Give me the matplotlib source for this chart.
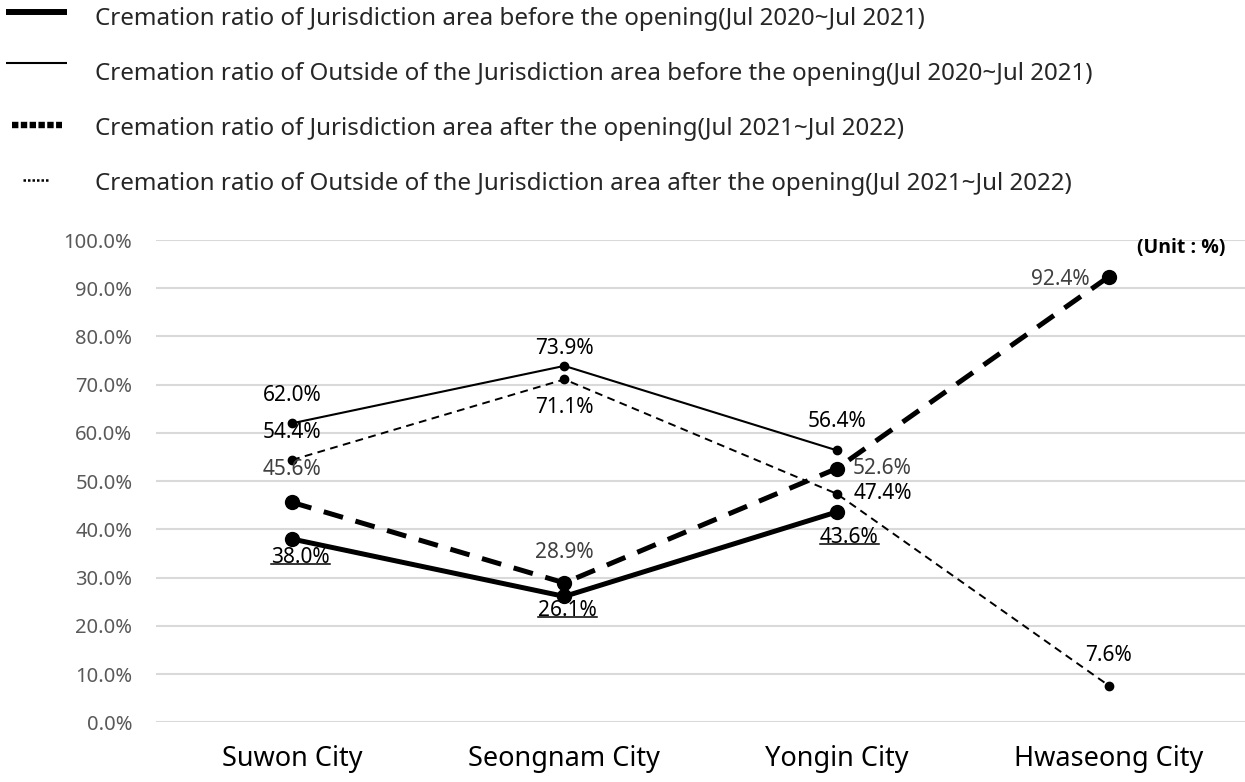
import matplotlib
matplotlib.use("Agg")
import matplotlib.pyplot as plt
from matplotlib.lines import Line2D
import numpy as np

plt.rcParams['font.family'] = ['Noto Sans', 'DejaVu Sans']

# data
cities = ["Suwon City", "Seongnam City", "Yongin City", "Hwaseong City"]
juris_before = [38.0, 26.1, 43.6, np.nan]
outside_before = [62.0, 73.9, 56.4, np.nan]
juris_after = [45.6, 28.9, 52.6, 92.4]
outside_after = [54.4, 71.1, 47.4, 7.6]

legend_labels = [
    "Cremation ratio of Jurisdiction area before the opening(Jul 2020~Jul 2021)",
    "Cremation ratio of Outside of the Jurisdiction area before the opening(Jul 2020~Jul 2021)",
    "Cremation ratio of Jurisdiction area after the opening(Jul 2021~Jul 2022)",
    "Cremation ratio of Outside of the Jurisdiction area after the opening(Jul 2021~Jul 2022)",
]

W, H = 1245, 782
fig = plt.figure(figsize=(W / 100, H / 100), dpi=100)
ax = fig.add_axes([156 / W, (H - 722.3) / H, (W - 156) / W, (722.3 - 240) / H])

x = np.arange(len(cities))

ax.plot(x, juris_before, color="black", lw=3.6, marker="o", ms=10, zorder=4)
ax.plot(x, outside_before, color="black", lw=1.5, marker="o", ms=6, zorder=4)
ax.plot(x, juris_after, color="black", lw=3.6, ls=(0, (4, 2.6)), marker="o", ms=10, zorder=4)
ax.plot(x, outside_after, color="black", lw=1.4, ls=(0, (4, 2.8)), marker="o", ms=6, zorder=4)

ax.set_xlim(-0.5, 3.5)
ax.set_ylim(0, 100)
ax.set_yticks(np.arange(0, 101, 10))
ax.set_yticklabels([f"{v:.1f}%" for v in np.arange(0, 101, 10)], color="#595959", fontsize=14.5)
ax.set_xticks(x)
ax.set_xticklabels(cities, fontsize=19.5, color="black")
ax.tick_params(axis="both", length=0)
ax.tick_params(axis="y", pad=17)
ax.tick_params(axis="x", pad=16)
ax.grid(axis="y", color="#d9d9d9", lw=1.5, zorder=0)
ax.set_axisbelow(True)
for s in ax.spines.values():
    s.set_visible(False)

# data labels: (series, color, offsets (dx, dy) in points per index, underline)
label_cfg = [
    (juris_before, "black", [(6, -13), (2, -10), (9, -18), None], True),
    (outside_before, "black", [(0, 20), (0, 12.5), (0, 21), None], False),
    (juris_after, "#404040", [(0, 24), (0, 22), (33, 0), (-35, -2)], False),
    (outside_after, "black", [(0, 20), (0, -20), (33, 0), (0, 21.5)], False),
]
under_texts = []
for vals, col, offs, ul in label_cfg:
    for i, v in enumerate(vals):
        if offs[i] is None or np.isnan(v):
            continue
        t = ax.annotate(f"{v:.1f}%", (x[i], v), xytext=offs[i], textcoords="offset points",
                        ha="center", va="center", fontsize=15, color=col, zorder=6)
        if ul:
            under_texts.append(t)

fig.text(1225 / W, (H - 248) / H, "(Unit : %)", ha="right", va="center",
         fontsize=14, fontweight="bold", family=["Open Sans", "DejaVu Sans"])

# legend drawn at top
line_y = [12, 63, 125, 180]
text_base = [25, 80, 135, 190]
styles = [
    dict(lw=4.3, ls="-", x0=6, x1=67),
    dict(lw=1.5, ls="-", x0=6, x1=67),
    dict(lw=4.6, ls=(0, (1.0, 0.38)), x0=12, x1=62),
    dict(lw=1.8, ls=(0, (1.0, 0.8)), x0=23, x1=50),
]
for ly, tb, st, lab in zip(line_y, text_base, styles, legend_labels):
    fy = (H - ly) / H
    fig.add_artist(Line2D([st["x0"] / W, st["x1"] / W], [fy, fy], color="black",
                          lw=st["lw"], ls=st["ls"], solid_capstyle="butt", dash_capstyle="butt"))
    fig.text(95 / W, (H - tb) / H, lab, ha="left", va="baseline", fontsize=17.4, color="#262626")

# underline labels
fig.canvas.draw()
r = fig.canvas.get_renderer()
for t in under_texts:
    bb = t.get_window_extent(renderer=r)
    yy = bb.y0 + 3.5
    fig.add_artist(Line2D([bb.x0 / W, bb.x1 / W], [yy / H, yy / H], color="black", lw=1.1))

fig.savefig("out.png", dpi=100)
